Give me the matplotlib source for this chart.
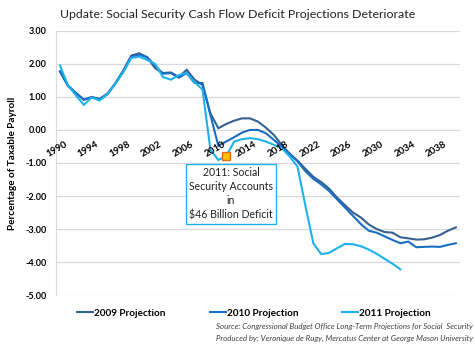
import matplotlib
matplotlib.use("Agg")

import matplotlib.pyplot as plt
import matplotlib.transforms as mtransforms
import numpy as np

# ── data: cash flow surplus/deficit as % of taxable payroll ──────────────────
YEARS = np.arange(1990, 2041)

PROJ_2009 = [1.77, 1.33, 1.12, 0.91, 1.00, 0.93, 1.10, 1.42, 1.80, 2.25,
             2.32, 2.20, 1.87, 1.72, 1.74, 1.60, 1.82, 1.52, 1.36, 0.50,
             0.05, 0.18, 0.28, 0.35, 0.35, 0.25, 0.07, -0.15, -0.45, -0.72,
             -0.93, -1.18, -1.42, -1.58, -1.78, -2.05, -2.28, -2.50, -2.65, -2.86,
             -3.00, -3.09, -3.11, -3.25, -3.28, -3.32, -3.31, -3.26, -3.18, -3.05,
             -2.95]

PROJ_2010 = [1.77, 1.35, 1.12, 0.92, 0.98, 0.94, 1.08, 1.40, 1.78, 2.20,
             2.28, 2.20, 1.95, 1.70, 1.72, 1.58, 1.72, 1.42, 1.42, 0.45,
             -0.48, -0.35, -0.22, -0.08, 0.00, 0.00, -0.10, -0.30, -0.50, -0.72,
             -0.95, -1.25, -1.48, -1.65, -1.85, -2.10, -2.35, -2.60, -2.85, -3.05,
             -3.11, -3.22, -3.33, -3.43, -3.38, -3.55, -3.54, -3.53, -3.54, -3.48,
             -3.43]

PROJ_2011 = [1.95, 1.35, 1.05, 0.76, 0.98, 0.89, 1.08, 1.40, 1.75, 2.18,
             2.22, 2.12, 2.00, 1.60, 1.52, 1.66, 1.72, 1.45, 1.22, -0.60,
             -0.91, -0.80, -0.35, -0.28, -0.25, -0.28, -0.35, -0.45, -0.55, -0.80,
             -1.11, -2.30, -3.43, -3.76, -3.72, -3.58, -3.45, -3.46, -3.52, -3.62,
             -3.75, -3.90, -4.05, -4.22]

SERIES = [
    ("2009 Projection", PROJ_2009, "#35608f"),
    ("2010 Projection", PROJ_2010, "#1a6ec2"),
    ("2011 Projection", PROJ_2011, "#1db2ee"),
]

HIGHLIGHT_YEAR = 2011
HIGHLIGHT_NOTE = "2011: Social\nSecurity Accounts\nin\n$46 Billion Deficit"

YTICKS = np.arange(-5, 3.01, 1.0)
XTICKS = np.arange(1990, 2041, 4)

# ── style ─────────────────────────────────────────────────────────────────────
plt.rcParams.update({
    "font.family": ["Lato", "DejaVu Sans"],
    "font.size": 7,
})

fig = plt.figure(figsize=(4.75, 3.46), dpi=100)
ax = fig.add_axes([0.118, 0.147, 0.850, 0.764])

for label, vals, color in SERIES:
    ax.plot(YEARS[:len(vals)], vals, color=color, lw=1.5, label=label,
            solid_joinstyle="miter", zorder=3)

# highlighted 2011 point
hv = PROJ_2011[HIGHLIGHT_YEAR - 1990]
ax.plot(HIGHLIGHT_YEAR, hv, marker="s", ms=6, mfc="#ffc000", mec="#e46c0a",
        mew=1.0, zorder=5)

ax.text(2011.6, -1.93, HIGHLIGHT_NOTE, ha="center", va="center",
        fontsize=7.6, linespacing=1.35, color="#222222", zorder=6,
        bbox=dict(fc="white", ec="#1db2ee", lw=1.0, boxstyle="square,pad=0.3"))

# axes — category axis crosses at zero, so place the spine before the labels
ax.spines["bottom"].set_position(("data", 0))
ax.spines["bottom"].set_visible(False)
for s in ["top", "right"]:
    ax.spines[s].set_visible(False)
ax.spines["left"].set_color("#d9d9d9")

ax.set_xlim(1989.5, 2040.5)
ax.set_ylim(-5, 3)
ax.set_yticks(YTICKS)
ax.set_yticklabels([f"{v:.2f}" for v in YTICKS], fontweight="bold", fontsize=6.5)
ax.set_xticks(XTICKS)
ax.set_xticklabels([str(y) for y in XTICKS], fontweight="bold", fontsize=7,
                   rotation=30, ha="right", rotation_mode="anchor")
ax.tick_params(axis="y", length=0, pad=7)
ax.tick_params(axis="x", length=0, pad=7)
ax.xaxis.set_zorder(4)   # year labels sit on top of the lines

# nudge rotated year labels a few pixels right of their category
shift = mtransforms.ScaledTranslation(4 / 100, 0, fig.dpi_scale_trans)
for lab in ax.get_xticklabels():
    lab.set_transform(lab.get_transform() + shift)

ax.grid(axis="y", color="#d9d9d9", lw=0.9, zorder=0)
ax.yaxis.set_zorder(0.5)

ax.set_ylabel("Percentage of Taxable Payroll", fontweight="bold", fontsize=7.2,
              labelpad=6)

fig.suptitle("Update: Social Security Cash Flow Deficit Projections Deteriorate",
             x=0.5, y=0.975, fontsize=8.9, color="#222222")

leg = fig.legend(loc="center", bbox_to_anchor=(0.535, 0.095), ncol=3,
                 frameon=False, handlelength=1.6, handletextpad=0.1,
                 columnspacing=4.4, prop=dict(weight="bold", size=7.2))

fig.text(0.995, 0.056,
         "Source: Congressional Budget Office Long-Term Projections for Social  Security",
         ha="right", va="center", fontsize=5.7, style="italic", color="#404040")
fig.text(0.995, 0.021,
         "Produced by: Veronique de Rugy, Mercatus Center at George Mason University",
         ha="right", va="center", fontsize=5.7, style="italic", color="#404040")

fig.savefig("out.png", dpi=100)
